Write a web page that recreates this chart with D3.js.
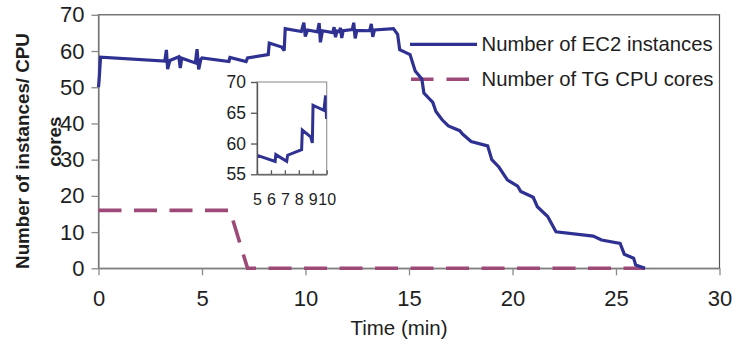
<!DOCTYPE html>
<html><head><meta charset="utf-8">
<script src="https://cdn.jsdelivr.net/npm/d3@7/dist/d3.min.js"></script>
<style>
body{margin:0;background:#fff}
text{font-family:"Liberation Sans",Arial,sans-serif;fill:#1e1e1e}
</style>
</head><body>
<svg id="chart" width="732" height="347"></svg>
<script>
// ---- data ----
const ec2Time = [0,0.03,0.1,3.2,3.28,3.34,3.45,3.88,3.95,4.02,4.68,4.76,4.84,4.94,5.0,6.3,6.35,7.13,7.2,8.2,8.25,8.85,8.97,9.02,9.8,9.92,9.99,10.1,10.58,10.66,10.72,10.82,11.32,11.38,11.45,11.52,11.63,11.69,11.75,11.82,12.26,12.33,12.4,12.48,13.1,13.18,13.25,13.33,14.25,14.45,14.55,14.8,15.05,15.3,15.62,15.72,16.15,16.3,16.6,16.9,17.45,17.6,18.0,18.8,19.0,19.35,19.75,20.25,20.4,21.0,21.2,21.7,22.1,23.9,24.3,25.2,25.4,25.85,25.95,26.4];
const ec2Count = [50,52,58.3,57.2,60.3,55.0,57.4,58.4,55.3,58.0,56.7,60.5,54.9,57.6,58.1,57.1,58.2,57.1,58.1,59.0,62.2,61.1,60.1,66.2,65.4,67.8,64.0,65.8,65.3,67.7,62.4,65.6,65.1,66.6,63.8,65.5,65.3,66.4,63.6,65.6,65.9,67.8,63.5,65.7,65.6,67.5,63.9,65.8,66.2,64.6,60.4,59.7,59.0,54.5,52.3,48.4,45.8,43.3,41.0,39.3,38.0,37.0,35.0,33.8,30.0,27.9,24.4,22.7,21.2,19.6,17.0,14.3,10.1,8.9,7.8,6.9,3.9,2.8,0.9,0];
const tgTime = [0,6.35,7.2,26.4];
const tgCores = [16,16,0,0];
const seriesNames = ["Number of EC2 instances","Number of TG CPU cores"];
const xTicks = [0,5,10,15,20,25,30];
const yTicks = [0,10,20,30,40,50,60,70];
const insetXTicks = [5,6,7,8,9,10];
const insetYTicks = [55,60,65,70];
const xTitle = "Time (min)";
const yTitleLines = ["Number of instances/ CPU","cores"];

const blue = "#2e3192", pink = "#9e4a78";

const svg = d3.select("#chart");
const x = d3.scaleLinear().domain([0,30]).range([98.5,719.5]);
const y = d3.scaleLinear().domain([0,70]).range([268.3,14.8]);

// frame
svg.append("rect").attr("x",x(0)).attr("y",y(70)).attr("width",x(30)-x(0)).attr("height",y(0)-y(70))
  .attr("fill","none").attr("stroke","#555").attr("stroke-width",1.2);

const gx = svg.append("g").attr("transform",`translate(0,${y(0)})`)
  .call(d3.axisBottom(x).tickValues(xTicks).tickSize(7).tickSizeOuter(0).tickPadding(15));
const gy = svg.append("g").attr("transform",`translate(${x(0)},0)`)
  .call(d3.axisLeft(y).tickValues(yTicks).tickSize(7).tickSizeOuter(0).tickPadding(7));
[gx,gy].forEach(g=>{
  g.selectAll("path,line").attr("stroke","#8a8a8a").attr("stroke-width",1.3);
  g.selectAll("text").attr("font-size",22).attr("font-family",'"Liberation Sans",Arial,sans-serif').attr("fill","#1e1e1e");
});

// titles
svg.append("text").attr("x",399).attr("y",335).attr("text-anchor","middle").attr("font-size",20.5).text(xTitle);
svg.append("text").attr("transform","translate(28.5,151) rotate(-90)").attr("text-anchor","middle")
  .attr("font-size",18.8).attr("font-weight","bold").text(yTitleLines[0]);
svg.append("text").attr("transform","translate(61,141.6) rotate(-90)").attr("text-anchor","middle")
  .attr("font-size",18.8).attr("font-weight","bold").text(yTitleLines[1]);

// legend
const leg = svg.append("g");
leg.append("line").attr("x1",410).attr("x2",477).attr("y1",44.3).attr("y2",44.3)
  .attr("stroke",blue).attr("stroke-width",3.2);
leg.append("line").attr("x1",411).attr("x2",470).attr("y1",79.3).attr("y2",79.3)
  .attr("stroke",pink).attr("stroke-width",3.6).attr("stroke-dasharray","22.5,13");
leg.append("text").attr("x",481.5).attr("y",51).attr("font-size",20.3).text(seriesNames[0]);
leg.append("text").attr("x",481.5).attr("y",86).attr("font-size",20.3).text(seriesNames[1]);

// main lines
const ec2 = ec2Time.map((t,i)=>[t,ec2Count[i]]);
const tg = tgTime.map((t,i)=>[t,tgCores[i]]);
const line = d3.line().x(d=>x(d[0])).y(d=>y(d[1]));
svg.append("path").attr("d",line(tg)).attr("fill","none").attr("stroke",pink)
  .attr("stroke-width",3.6).attr("stroke-dasharray","23,12.5");
svg.append("path").attr("d",line(ec2)).attr("fill","none").attr("stroke",blue)
  .attr("stroke-width",3.2).attr("stroke-linejoin","miter").attr("stroke-miterlimit",3);

// inset
const ix = d3.scaleLinear().domain([5,10]).range([257,326.7]);
const iy = d3.scaleLinear().domain([55,70]).range([174.3,82]);
svg.append("clipPath").attr("id","insetClip").append("rect")
  .attr("x",ix(5)).attr("y",iy(70)).attr("width",ix(10)-ix(5)).attr("height",iy(55)-iy(70));
svg.append("rect").attr("x",ix(5)).attr("y",iy(70)).attr("width",ix(10)-ix(5)).attr("height",iy(55)-iy(70))
  .attr("fill","#fff").attr("stroke","#9a9a9a").attr("stroke-width",1.2);
const iline = d3.line().x(d=>ix(d[0])).y(d=>iy(d[1]));
svg.append("path").attr("d",iline(ec2)).attr("clip-path","url(#insetClip)")
  .attr("fill","none").attr("stroke",blue).attr("stroke-width",3).attr("stroke-linejoin","miter");
const igx = svg.append("g").attr("transform",`translate(0,${iy(55)})`)
  .call(d3.axisBottom(ix).tickValues(insetXTicks).tickFormat(d3.format("d")).tickSize(-4).tickSizeOuter(0).tickPadding(19));
const igy = svg.append("g").attr("transform",`translate(${ix(5)},0)`)
  .call(d3.axisLeft(iy).tickValues(insetYTicks).tickFormat(d3.format("d")).tickSize(6).tickSizeOuter(0).tickPadding(5));
igx.selectAll("text").attr("font-size",16);
igy.selectAll("text").attr("font-size",17.5);
[igx,igy].forEach(g=>{
  g.selectAll("path,line").attr("stroke","#555").attr("stroke-width",1.3);
  g.selectAll("text").attr("font-family",'"Liberation Sans",Arial,sans-serif').attr("fill","#1e1e1e");
});
</script>
</body></html>
